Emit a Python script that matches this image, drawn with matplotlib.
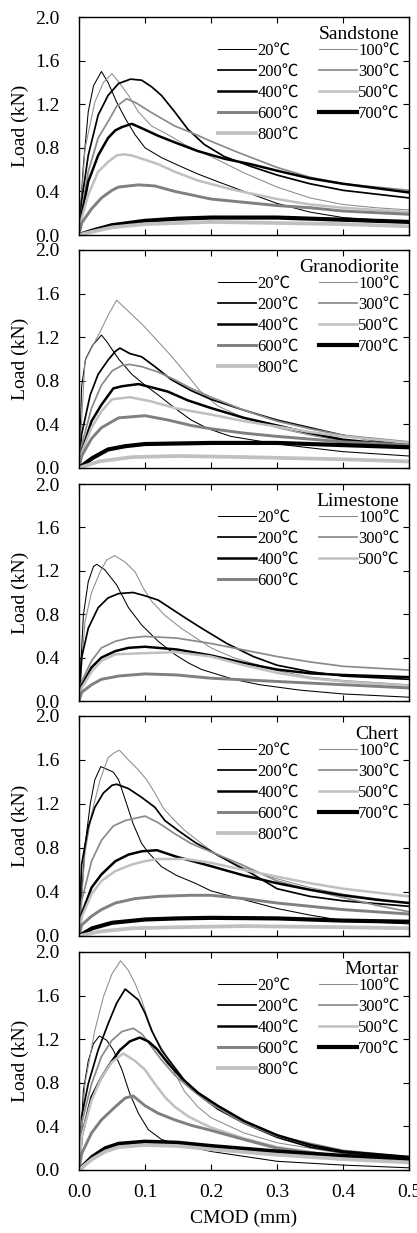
import matplotlib
matplotlib.use("Agg")
import matplotlib.pyplot as plt

plt.rcParams['font.family'] = ['Liberation Serif', 'Noto Sans CJK SC', 'DejaVu Sans']

# ---------------- data (CMOD mm, Load kN) ----------------
temps = ["20℃", "100℃", "200℃", "300℃", "400℃", "500℃", "600℃", "700℃", "800℃"]

ss_20 = [(0,0),(0.0066,0.64),(0.014,1.13),(0.022,1.37),(0.034,1.50),(0.044,1.40),(0.057,1.22),(0.07,1.07),(0.085,0.92),(0.10,0.80),(0.125,0.71),(0.15,0.64),(0.18,0.56),(0.21,0.49),(0.25,0.40),(0.30,0.29),(0.35,0.21),(0.40,0.16),(0.50,0.12)]
ss_100 = [(0,0),(0.009,0.79),(0.024,1.22),(0.037,1.40),(0.05,1.48),(0.062,1.39),(0.075,1.28),(0.09,1.13),(0.11,1.0),(0.135,0.92),(0.16,0.83),(0.20,0.72),(0.25,0.57),(0.30,0.44),(0.35,0.34),(0.40,0.28),(0.45,0.25),(0.50,0.23)]
ss_200 = [(0,0),(0.004,0.31),(0.014,0.73),(0.029,1.10),(0.044,1.28),(0.06,1.39),(0.078,1.43),(0.095,1.42),(0.11,1.36),(0.125,1.28),(0.145,1.13),(0.165,0.97),(0.19,0.83),(0.22,0.72),(0.26,0.63),(0.30,0.55),(0.35,0.47),(0.40,0.41),(0.50,0.34)]
ss_300 = [(0,0),(0.004,0.21),(0.014,0.58),(0.029,0.89),(0.044,1.04),(0.057,1.18),(0.072,1.25),(0.087,1.21),(0.108,1.13),(0.125,1.07),(0.145,1.0),(0.17,0.94),(0.20,0.86),(0.24,0.76),(0.30,0.62),(0.35,0.53),(0.40,0.47),(0.50,0.41)]
ss_400 = [(0,0),(0.004,0.18),(0.014,0.49),(0.029,0.73),(0.044,0.89),(0.055,0.96),(0.065,0.99),(0.08,1.02),(0.095,0.98),(0.12,0.91),(0.145,0.85),(0.18,0.77),(0.22,0.70),(0.26,0.65),(0.30,0.59),(0.35,0.52),(0.40,0.47),(0.50,0.39)]
ss_500 = [(0,0),(0.004,0.15),(0.014,0.37),(0.029,0.58),(0.044,0.67),(0.057,0.73),(0.068,0.74),(0.08,0.73),(0.095,0.70),(0.12,0.65),(0.145,0.58),(0.18,0.50),(0.23,0.42),(0.30,0.33),(0.35,0.28),(0.40,0.25),(0.50,0.21)]
ss_600 = [(0,0),(0.004,0.11),(0.019,0.24),(0.034,0.34),(0.05,0.41),(0.06,0.44),(0.09,0.46),(0.115,0.45),(0.145,0.40),(0.20,0.33),(0.25,0.30),(0.30,0.27),(0.35,0.25),(0.40,0.22),(0.50,0.19)]
ss_700 = [(0,0),(0.02,0.04),(0.05,0.09),(0.10,0.13),(0.15,0.15),(0.20,0.16),(0.30,0.16),(0.40,0.14),(0.50,0.12)]
ss_800 = [(0,0),(0.02,0.03),(0.05,0.07),(0.10,0.10),(0.15,0.11),(0.20,0.12),(0.30,0.11),(0.40,0.10),(0.50,0.08)]

gd_20 = [(0,0),(0.004,0.75),(0.01,1.0),(0.02,1.12),(0.034,1.22),(0.042,1.16),(0.06,1.0),(0.08,0.86),(0.10,0.76),(0.12,0.67),(0.145,0.55),(0.17,0.44),(0.196,0.36),(0.23,0.29),(0.30,0.22),(0.40,0.15),(0.50,0.11)]
gd_100 = [(0,0),(0.009,0.98),(0.019,1.10),(0.032,1.25),(0.044,1.40),(0.057,1.54),(0.097,1.31),(0.138,1.04),(0.163,0.86),(0.183,0.71),(0.21,0.57),(0.25,0.46),(0.30,0.37),(0.35,0.30),(0.40,0.25),(0.50,0.21)]
gd_200 = [(0,0),(0.004,0.31),(0.017,0.67),(0.029,0.86),(0.044,0.99),(0.055,1.07),(0.062,1.10),(0.077,1.05),(0.095,1.02),(0.115,0.93),(0.14,0.81),(0.17,0.71),(0.20,0.63),(0.25,0.53),(0.30,0.44),(0.35,0.37),(0.40,0.30),(0.45,0.25),(0.50,0.22)]
gd_300 = [(0,0),(0.004,0.21),(0.019,0.55),(0.034,0.76),(0.05,0.89),(0.065,0.94),(0.077,0.95),(0.095,0.93),(0.12,0.88),(0.145,0.81),(0.17,0.73),(0.20,0.65),(0.25,0.53),(0.30,0.43),(0.35,0.36),(0.40,0.30),(0.50,0.24)]
gd_400 = [(0,0),(0.004,0.15),(0.019,0.43),(0.034,0.58),(0.052,0.73),(0.065,0.75),(0.09,0.77),(0.11,0.74),(0.135,0.70),(0.165,0.62),(0.20,0.55),(0.25,0.46),(0.30,0.39),(0.35,0.32),(0.40,0.26),(0.50,0.20)]
gd_500 = [(0,0),(0.004,0.14),(0.019,0.37),(0.034,0.52),(0.05,0.63),(0.077,0.65),(0.11,0.61),(0.145,0.55),(0.20,0.49),(0.25,0.43),(0.30,0.38),(0.35,0.33),(0.40,0.29),(0.50,0.23)]
gd_600 = [(0,0),(0.004,0.11),(0.019,0.27),(0.034,0.37),(0.06,0.46),(0.10,0.48),(0.135,0.44),(0.17,0.39),(0.20,0.36),(0.25,0.32),(0.30,0.29),(0.40,0.24),(0.50,0.21)]
gd_700 = [(0,0),(0.02,0.09),(0.044,0.17),(0.07,0.20),(0.10,0.22),(0.15,0.225),(0.20,0.23),(0.30,0.23),(0.40,0.21),(0.50,0.19)]
gd_800 = [(0,0),(0.03,0.06),(0.08,0.10),(0.15,0.11),(0.25,0.10),(0.40,0.08),(0.50,0.06)]

ls_20 = [(0,0),(0.0066,0.79),(0.014,1.10),(0.022,1.24),(0.027,1.26),(0.039,1.21),(0.057,1.07),(0.075,0.86),(0.095,0.70),(0.12,0.55),(0.145,0.43),(0.166,0.35),(0.186,0.29),(0.234,0.20),(0.274,0.15),(0.335,0.10),(0.40,0.065),(0.50,0.035)]
ls_100 = [(0,0),(0.009,0.73),(0.019,1.0),(0.032,1.19),(0.042,1.30),(0.054,1.34),(0.07,1.28),(0.085,1.19),(0.0975,1.04),(0.11,0.92),(0.13,0.79),(0.155,0.67),(0.18,0.57),(0.20,0.49),(0.234,0.40),(0.30,0.28),(0.35,0.22),(0.40,0.19),(0.50,0.15)]
ls_200 = [(0,0),(0.004,0.40),(0.014,0.67),(0.029,0.86),(0.044,0.95),(0.06,0.99),(0.082,1.0),(0.10,0.97),(0.12,0.93),(0.14,0.85),(0.16,0.77),(0.186,0.67),(0.224,0.53),(0.264,0.41),(0.30,0.33),(0.35,0.27),(0.40,0.23),(0.50,0.20)]
ls_300 = [(0,0),(0.004,0.18),(0.019,0.37),(0.034,0.49),(0.055,0.55),(0.075,0.58),(0.10,0.595),(0.148,0.58),(0.20,0.53),(0.25,0.47),(0.30,0.41),(0.35,0.36),(0.40,0.32),(0.50,0.285)]
ls_400 = [(0,0),(0.004,0.14),(0.019,0.31),(0.034,0.40),(0.055,0.46),(0.075,0.49),(0.10,0.50),(0.148,0.475),(0.20,0.42),(0.25,0.35),(0.30,0.29),(0.35,0.255),(0.40,0.24),(0.50,0.22)]
ls_500 = [(0,0),(0.004,0.12),(0.019,0.27),(0.034,0.37),(0.055,0.43),(0.095,0.44),(0.148,0.45),(0.20,0.41),(0.25,0.33),(0.30,0.26),(0.35,0.21),(0.40,0.18),(0.50,0.14)]
ls_600 = [(0,0),(0.004,0.08),(0.019,0.15),(0.034,0.20),(0.06,0.23),(0.10,0.25),(0.148,0.24),(0.20,0.21),(0.30,0.18),(0.40,0.15),(0.50,0.12)]

ch_20 = [(0,0),(0.009,0.81),(0.017,1.2),(0.024,1.42),(0.033,1.54),(0.052,1.49),(0.06,1.42),(0.07,1.24),(0.082,1.02),(0.095,0.84),(0.105,0.76),(0.125,0.63),(0.148,0.55),(0.176,0.48),(0.20,0.41),(0.25,0.33),(0.30,0.25),(0.35,0.19),(0.40,0.14),(0.50,0.11)]
ch_100 = [(0,0),(0.009,0.75),(0.019,1.11),(0.032,1.42),(0.044,1.62),(0.052,1.66),(0.061,1.69),(0.075,1.60),(0.09,1.51),(0.1025,1.42),(0.115,1.30),(0.128,1.16),(0.14,1.08),(0.16,0.96),(0.186,0.84),(0.21,0.73),(0.25,0.62),(0.30,0.52),(0.35,0.44),(0.40,0.38),(0.50,0.30)]
ch_200 = [(0,0),(0.004,0.65),(0.014,0.99),(0.024,1.17),(0.037,1.30),(0.05,1.37),(0.057,1.38),(0.075,1.34),(0.095,1.26),(0.115,1.17),(0.13,1.05),(0.15,0.96),(0.176,0.85),(0.206,0.75),(0.236,0.65),(0.264,0.56),(0.30,0.43),(0.35,0.36),(0.40,0.32),(0.50,0.27)]
ch_300 = [(0,0),(0.004,0.32),(0.019,0.68),(0.034,0.87),(0.052,1.0),(0.07,1.05),(0.10,1.09),(0.12,1.03),(0.145,0.93),(0.17,0.84),(0.206,0.75),(0.246,0.65),(0.30,0.50),(0.35,0.42),(0.40,0.35),(0.45,0.28),(0.50,0.22)]
ch_400 = [(0,0),(0.004,0.20),(0.019,0.44),(0.034,0.56),(0.055,0.68),(0.075,0.74),(0.095,0.77),(0.118,0.78),(0.148,0.72),(0.20,0.635),(0.25,0.55),(0.30,0.48),(0.35,0.42),(0.40,0.37),(0.45,0.33),(0.50,0.30)]
ch_500 = [(0,0),(0.004,0.17),(0.019,0.38),(0.034,0.50),(0.055,0.59),(0.08,0.65),(0.10,0.68),(0.118,0.70),(0.163,0.70),(0.20,0.665),(0.25,0.60),(0.30,0.54),(0.35,0.48),(0.40,0.43),(0.50,0.36)]
ch_600 = [(0,0),(0.004,0.10),(0.019,0.18),(0.034,0.24),(0.055,0.30),(0.085,0.34),(0.12,0.36),(0.168,0.37),(0.20,0.37),(0.25,0.34),(0.30,0.30),(0.35,0.27),(0.40,0.24),(0.50,0.20)]
ch_700 = [(0,0),(0.02,0.07),(0.05,0.12),(0.10,0.15),(0.15,0.16),(0.20,0.165),(0.30,0.16),(0.40,0.14),(0.50,0.13)]
ch_800 = [(0,0),(0.03,0.04),(0.08,0.07),(0.15,0.08),(0.25,0.09),(0.40,0.08),(0.50,0.07)]

mo_20 = [(0,0),(0.0066,0.73),(0.014,1.0),(0.022,1.16),(0.031,1.23),(0.042,1.19),(0.052,1.10),(0.065,0.92),(0.077,0.70),(0.09,0.52),(0.105,0.37),(0.125,0.28),(0.148,0.24),(0.20,0.17),(0.30,0.08),(0.40,0.045),(0.50,0.02)]
mo_100 = [(0,0),(0.009,0.79),(0.024,1.28),(0.037,1.59),(0.05,1.80),(0.063,1.92),(0.075,1.83),(0.085,1.71),(0.095,1.56),(0.105,1.37),(0.115,1.22),(0.13,1.07),(0.145,0.89),(0.16,0.72),(0.18,0.58),(0.20,0.48),(0.25,0.34),(0.30,0.25),(0.40,0.15),(0.50,0.11)]
mo_200 = [(0,0),(0.004,0.49),(0.014,0.79),(0.029,1.10),(0.044,1.34),(0.057,1.53),(0.07,1.66),(0.082,1.60),(0.09,1.56),(0.10,1.44),(0.11,1.28),(0.125,1.10),(0.14,0.98),(0.16,0.82),(0.186,0.67),(0.21,0.56),(0.25,0.43),(0.30,0.30),(0.35,0.21),(0.40,0.16),(0.50,0.11)]
mo_300 = [(0,0),(0.004,0.43),(0.019,0.79),(0.034,1.04),(0.05,1.19),(0.065,1.27),(0.082,1.30),(0.095,1.25),(0.11,1.13),(0.125,1.01),(0.145,0.87),(0.17,0.74),(0.196,0.62),(0.25,0.43),(0.30,0.31),(0.40,0.18),(0.50,0.12)]
mo_400 = [(0,0),(0.004,0.31),(0.019,0.67),(0.034,0.85),(0.05,1.0),(0.062,1.10),(0.077,1.18),(0.092,1.215),(0.105,1.18),(0.118,1.11),(0.135,0.98),(0.156,0.84),(0.18,0.71),(0.21,0.59),(0.25,0.45),(0.30,0.32),(0.35,0.23),(0.40,0.17),(0.50,0.12)]
mo_500 = [(0,0),(0.004,0.31),(0.019,0.64),(0.034,0.85),(0.05,0.99),(0.067,1.07),(0.085,1.0),(0.10,0.92),(0.115,0.79),(0.13,0.67),(0.145,0.58),(0.166,0.49),(0.186,0.43),(0.20,0.39),(0.25,0.29),(0.30,0.21),(0.40,0.12),(0.50,0.08)]
mo_600 = [(0,0),(0.004,0.15),(0.019,0.34),(0.034,0.46),(0.055,0.58),(0.07,0.66),(0.082,0.68),(0.10,0.59),(0.12,0.52),(0.145,0.46),(0.17,0.41),(0.196,0.37),(0.25,0.28),(0.30,0.20),(0.40,0.12),(0.50,0.09)]
mo_700 = [(0,0),(0.02,0.12),(0.04,0.20),(0.06,0.24),(0.10,0.26),(0.15,0.25),(0.20,0.22),(0.30,0.17),(0.40,0.13),(0.50,0.10)]
mo_800 = [(0,0),(0.02,0.10),(0.04,0.17),(0.06,0.21),(0.10,0.23),(0.15,0.22),(0.20,0.19),(0.30,0.14),(0.40,0.10),(0.50,0.07)]

rock_names = ["Sandstone", "Granodiorite", "Limestone", "Chert", "Mortar"]
rock_curves = [
    [ss_20, ss_100, ss_200, ss_300, ss_400, ss_500, ss_600, ss_700, ss_800],
    [gd_20, gd_100, gd_200, gd_300, gd_400, gd_500, gd_600, gd_700, gd_800],
    [ls_20, ls_100, ls_200, ls_300, ls_400, ls_500, ls_600],
    [ch_20, ch_100, ch_200, ch_300, ch_400, ch_500, ch_600, ch_700, ch_800],
    [mo_20, mo_100, mo_200, mo_300, mo_400, mo_500, mo_600, mo_700, mo_800],
]

x_ticks = [0.0, 0.1, 0.2, 0.3, 0.4, 0.5]
y_ticks = [0.0, 0.4, 0.8, 1.2, 1.6, 2.0]

# ---------------- styles ----------------
styles = [
    dict(color="#000000", lw=0.75),  # 20
    dict(color="#8c8c8c", lw=0.75),  # 100
    dict(color="#000000", lw=1.25),  # 200
    dict(color="#8a8a8a", lw=1.25),  # 300
    dict(color="#000000", lw=1.8),   # 400
    dict(color="#c0c0c0", lw=1.8),   # 500
    dict(color="#808080", lw=2.1),   # 600
    dict(color="#000000", lw=3.0),   # 700
    dict(color="#c0c0c0", lw=2.7),   # 800
]

W, H = 417, 1233
fig = plt.figure(figsize=(W / 100, H / 100), dpi=100)

left_px, right_px = 79, 409
panel_px = [(17, 235), (250, 468), (484, 701), (716, 936), (952, 1170)]

for i, (name, curves) in enumerate(zip(rock_names, rock_curves)):
    top, bot = panel_px[i]
    ax = fig.add_axes([left_px / W, 1 - bot / H, (right_px - left_px) / W, (bot - top) / H])
    handles = []
    for k, pts in enumerate(curves):
        xs = [p[0] for p in pts]
        ys = [p[1] for p in pts]
        ln, = ax.plot(xs, ys, solid_joinstyle='round', **styles[k], label=temps[k])
        handles.append(ln)
    ax.set_xlim(0, 0.5)
    ax.set_ylim(0, 2.0)
    ax.set_xticks(x_ticks)
    ax.set_yticks(y_ticks)
    ax.set_yticklabels([f"{v:.1f}" for v in y_ticks])
    ax.tick_params(direction='in', top=True, right=True, length=4, width=0.8,
                   labelsize=14)
    ax.tick_params(axis='y', pad=14)
    ax.tick_params(axis='x', pad=10)
    for s in ax.spines.values():
        s.set_linewidth(1.0)
    if i < 4:
        ax.set_xticklabels([])
    else:
        ax.set_xticklabels([f"{v:.1f}" for v in x_ticks])
        ax.set_xlabel("CMOD (mm)", fontsize=14, labelpad=6)
    ax.set_ylabel("Load (kN)", fontsize=14, labelpad=4)

    col1 = handles[0::2]
    col2 = handles[1::2]
    order = col1 + col2
    ax.legend(handles=order, labels=[h.get_label() for h in order], ncol=2,
              loc='upper right', bbox_to_anchor=(0.972, 0.88), frameon=False,
              fontsize=12, handlelength=2.25, handletextpad=0.1,
              columnspacing=1.2, labelspacing=0.3, borderpad=0, borderaxespad=0)
    ax.text(0.97, 0.897, name, transform=ax.transAxes, ha='right', va='baseline',
            fontsize=14)

fig.savefig("out.png", dpi=100)
